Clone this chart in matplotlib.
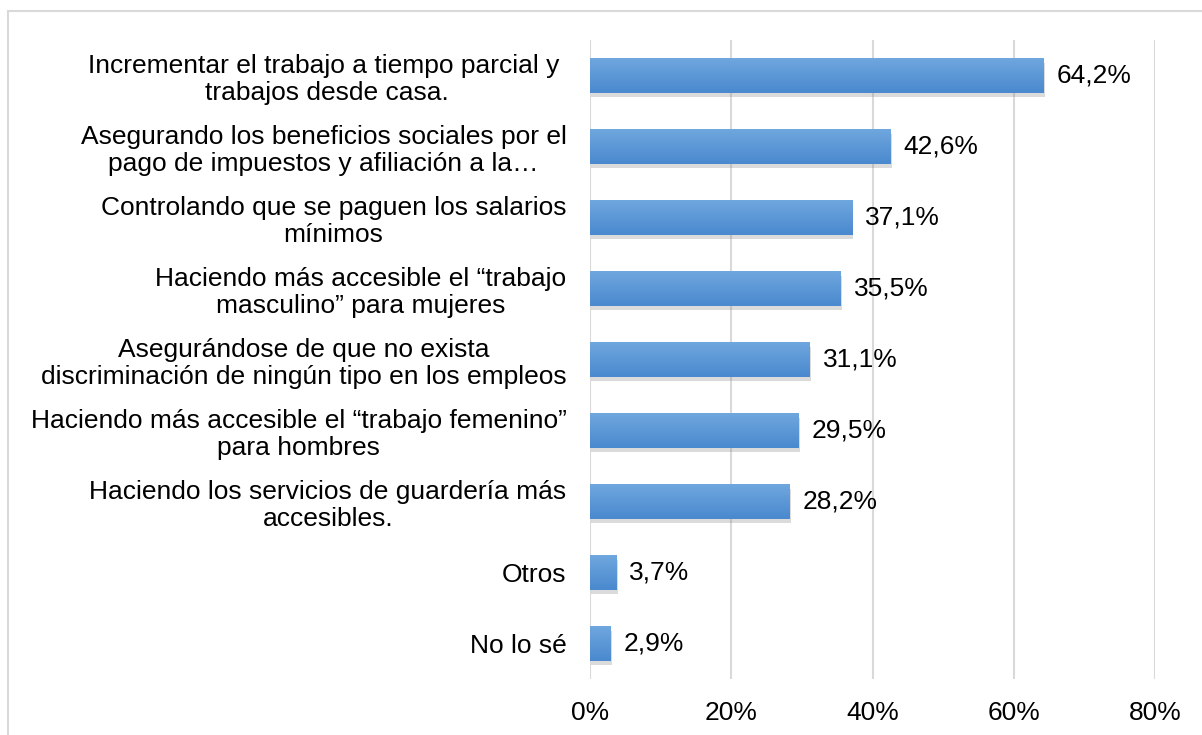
import matplotlib
matplotlib.use("Agg")
import matplotlib.pyplot as plt
import matplotlib.patheffects as pe
import numpy as np
from matplotlib.patches import Rectangle
from matplotlib.colors import LinearSegmentedColormap

plt.rcParams['font.family'] = ['Liberation Sans', 'DejaVu Sans']

categories = [
    "Incrementar el trabajo a tiempo parcial y \ntrabajos desde casa.",
    "Asegurando los beneficios sociales por el\npago de impuestos y afiliación a la…",
    "Controlando que se paguen los salarios\nmínimos",
    "Haciendo más accesible el “trabajo\nmasculino” para mujeres",
    "Asegurándose de que no exista\ndiscriminación de ningún tipo en los empleos",
    "Haciendo más accesible el “trabajo femenino”\npara hombres",
    "Haciendo los servicios de guardería más\naccesibles.",
    "Otros",
    "No lo sé",
]
values = [64.2, 42.6, 37.1, 35.5, 31.1, 29.5, 28.2, 3.7, 2.9]
value_labels = ["64,2%", "42,6%", "37,1%", "35,5%", "31,1%", "29,5%", "28,2%", "3,7%", "2,9%"]
xticks = [0, 20, 40, 60, 80]
xtick_labels = ["0%", "20%", "40%", "60%", "80%"]

FS = 19
W, H = 1202, 735
fig = plt.figure(figsize=(W / 100, H / 100), dpi=100)
fig.patch.set_facecolor('white')

# outer frame
fig.add_artist(Rectangle((8 / W, -0.1), 1.2, 1 - 11 / H + 0.1, transform=fig.transFigure,
                         fill=False, edgecolor='#d9d9d9', linewidth=1.5))

ax = fig.add_axes([590 / W, 1 - 679 / H, (1155 - 590) / W, (679 - 40) / H])
n = len(categories)
ypos = np.arange(n)
ax.set_xlim(0, 80)
ax.set_ylim(n - 0.5, -0.5)

for s in ax.spines.values():
    s.set_visible(False)
ax.set_xticks(xticks)
ax.set_xticklabels(xtick_labels, fontsize=FS)
ax.set_yticks(ypos)
ax.set_yticklabels(categories, fontsize=FS, multialignment='center', linespacing=1.15)
ax.tick_params(axis='both', length=0)
ax.tick_params(axis='y', pad=17)
ax.tick_params(axis='x', pad=16)
ax.grid(axis='x', color='#d9d9d9', linewidth=1.5, zorder=0)
ax.set_axisbelow(True)

bh = 0.48
grad = np.linspace(0, 1, 100).reshape(-1, 1)
cmap = LinearSegmentedColormap.from_list('g', ['#6fa7de', '#4a89cf'])
bars = ax.barh(ypos, values, height=bh, color='#5b9bd5', zorder=2,
               path_effects=[pe.SimplePatchShadow(offset=(1, -3), shadow_rgbFace='#888888', alpha=0.3), pe.Normal()])
for b in bars:
    x0, y0 = b.get_x(), b.get_y()
    w, h = b.get_width(), b.get_height()
    im = ax.imshow(grad, cmap=cmap, aspect='auto', extent=(x0, x0 + w, y0 + h, y0),
                   zorder=3, interpolation='bilinear')
    im.set_clip_path(b)

for y, v, lab in zip(ypos, values, value_labels):
    ax.annotate(lab, (v, y), xytext=(13, 0), textcoords='offset pixels',
                va='center', ha='left', fontsize=FS, color='black', zorder=4)

ax.set_xlim(0, 80)
ax.set_ylim(n - 0.5, -0.5)
fig.savefig('out.png', dpi=100, facecolor='white')
